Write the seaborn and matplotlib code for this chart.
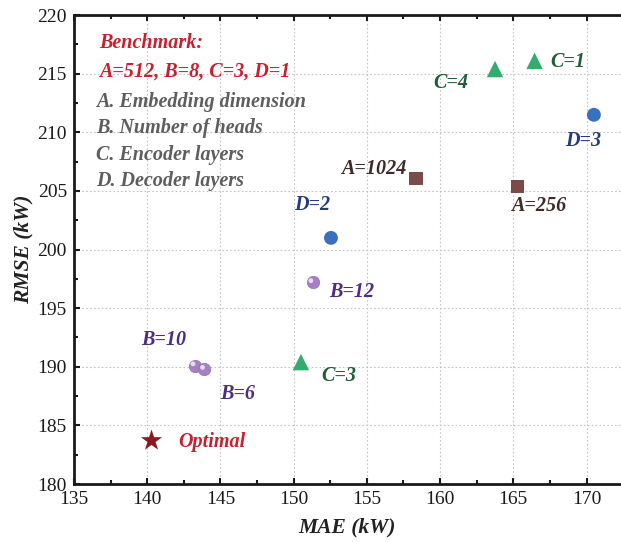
import numpy as np
import pandas as pd
import matplotlib
matplotlib.use("Agg")
import matplotlib.pyplot as plt
import seaborn as sns

# Values
emb_labels = ["A=1024", "A=256"]
emb_mae = [158.35, 165.3]
emb_rmse = [206.1, 205.4]

head_labels = ["B=12", "B=10", "B=6"]
head_mae = [151.3, 143.25, 143.9]
head_rmse = [197.2, 190.1, 189.8]

enc_labels = ["C=1", "C=4", "C=3"]
enc_mae = [166.45, 163.75, 150.5]
enc_rmse = [216.1, 215.4, 190.4]

dec_labels = ["D=3", "D=2"]
dec_mae = [170.5, 152.55]
dec_rmse = [211.5, 201.0]

opt_mae = [140.3]
opt_rmse = [183.7]

x_ticks = [135, 140, 145, 150, 155, 160, 165, 170]
y_ticks = [180, 185, 190, 195, 200, 205, 210, 215, 220]

legend_lines = [
    "A. Embedding dimension",
    "B. Number of heads",
    "C. Encoder layers",
    "D. Decoder layers",
]

sns.set_style("ticks")
plt.rcParams["font.family"] = ["Liberation Serif", "DejaVu Serif"]

fig = plt.figure(figsize=(6.21, 5.42), dpi=100)
ax = fig.add_axes([0.119, 0.107, 0.881, 0.865])

emb = pd.DataFrame({"mae": emb_mae, "rmse": emb_rmse})
head = pd.DataFrame({"mae": head_mae, "rmse": head_rmse})
enc = pd.DataFrame({"mae": enc_mae, "rmse": enc_rmse})
dec = pd.DataFrame({"mae": dec_mae, "rmse": dec_rmse})
opt = pd.DataFrame({"mae": opt_mae, "rmse": opt_rmse})

sns.scatterplot(data=emb, x="mae", y="rmse", marker="s", s=90, color="#7B4B49",
                edgecolor="none", ax=ax, zorder=3)
sns.scatterplot(data=enc, x="mae", y="rmse", marker="^", s=140, color="#35AC6E",
                edgecolor="none", ax=ax, zorder=3)
sns.scatterplot(data=dec, x="mae", y="rmse", marker="o", s=100, color="#3B6FBF",
                edgecolor="none", ax=ax, zorder=3)
# spheres: purple disc with a soft highlight
sns.scatterplot(data=head, x="mae", y="rmse", marker="o", s=80, color="#A680C2",
                edgecolor="#9470B3", linewidth=0.5, ax=ax, zorder=3)
hl = head.copy()
hl["mae"] = hl["mae"] - 0.12
hl["rmse"] = hl["rmse"] + 0.15
sns.scatterplot(data=hl, x="mae", y="rmse", marker="o", s=12, color="#E8DDF0",
                edgecolor="none", ax=ax, zorder=4)
sns.scatterplot(data=opt, x="mae", y="rmse", marker="*", s=260, color="#8B1A1E",
                edgecolor="none", ax=ax, zorder=3)

lab = dict(fontsize=14.5, fontweight="bold", fontstyle="italic", va="center")

# point labels
ax.text(158.35 - 0.65, 206.9, emb_labels[0], color="#3F2A2A", ha="right", **lab)
ax.text(166.75, 203.7, emb_labels[1], color="#3F2A2A", ha="center", **lab)
ax.text(154.0, 196.4, head_labels[0], color="#4E2C85", ha="center", **lab)
ax.text(141.1, 192.3, head_labels[1], color="#4E2C85", ha="center", **lab)
ax.text(146.2, 187.7, head_labels[2], color="#4E2C85", ha="center", **lab)
ax.text(167.5, 216.0, enc_labels[0], color="#1E5E3A", ha="left", **lab)
ax.text(161.9, 214.2, enc_labels[1], color="#1E5E3A", ha="right", **lab)
ax.text(153.1, 189.2, enc_labels[2], color="#1E5E3A", ha="center", **lab)
ax.text(169.8, 209.3, dec_labels[0], color="#243C78", ha="center", **lab)
ax.text(151.3, 203.8, dec_labels[1], color="#243C78", ha="center", **lab)
ax.text(142.1, 183.6, "Optimal", color="#C8202F", ha="left", **lab)

# benchmark note and parameter key
ax.text(136.7, 217.6, "Benchmark:", color="#C8202F", ha="left", **lab)
ax.text(136.7, 215.2, "A=512, B=8, C=3, D=1", color="#C8202F", ha="left", **lab)
for i, line in enumerate(legend_lines):
    ax.text(136.5, 212.6 - 2.25 * i, line, color="#5E5E5E", ha="left", **lab)

ax.set_xlim(135, 172.35)
ax.set_ylim(180, 220)
ax.set_xticks(x_ticks)
ax.set_yticks(y_ticks)
ax.set_xticks(np.arange(137.5, 172.5, 5), minor=True)
ax.set_yticks(np.arange(182.5, 220, 5), minor=True)
ax.grid(True, which="major", linestyle=(0, (1.5, 2)), color="#C4C4C4", linewidth=0.8)
ax.set_axisbelow(True)

ax.tick_params(which="both", direction="in", top=True, right=False, width=1.5,
               labelsize=14, colors="#1A1A1A", pad=5)
ax.tick_params(which="major", length=4)
ax.tick_params(which="minor", length=3)
for side in ["left", "bottom", "top"]:
    ax.spines[side].set_linewidth(2)
    ax.spines[side].set_color("#1A1A1A")
ax.spines["right"].set_visible(False)

ax.set_xlabel("MAE (kW)", fontsize=15.5, fontweight="bold", fontstyle="italic",
              labelpad=7, color="#222222")
ax.set_ylabel("RMSE (kW)", fontsize=15.5, fontweight="bold", fontstyle="italic",
              labelpad=3, color="#222222")

fig.savefig("out.png", dpi=100)
